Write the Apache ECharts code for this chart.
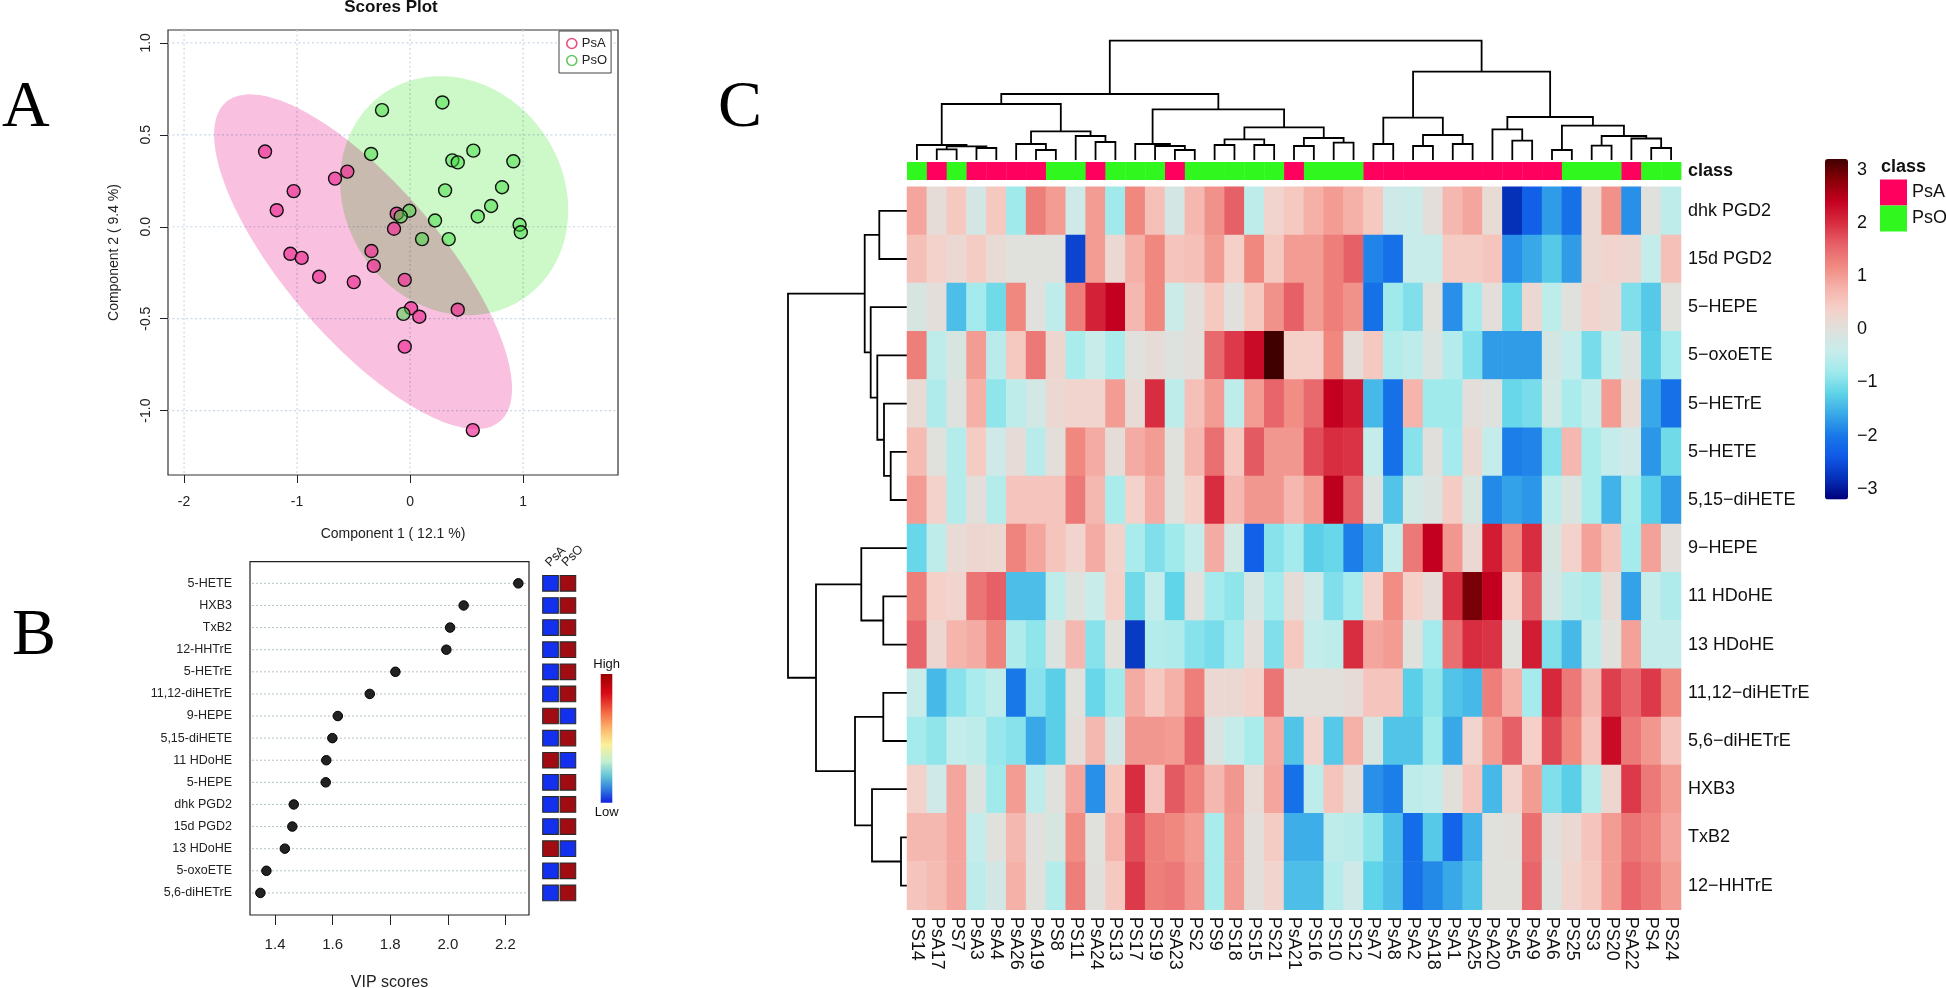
<!DOCTYPE html>
<html><head><meta charset="utf-8">
<script src="https://cdn.jsdelivr.net/npm/echarts@6/dist/echarts.min.js"></script>
<style>html,body{margin:0;padding:0;background:#fff}#c{width:1946px;height:988px}</style></head>
<body><div id="c"></div>
<script>
// ---------- Panel A: scores plot ----------
const psaPoints=[[-1.283,.409],[-1.03,.194],[-1.18,.09],[-.664,.262],[-.555,.30],[-.118,.071],[-.142,-.011],[-1.059,-.147],[-.959,-.169],[-.805,-.272],[-.498,-.301],[-.342,-.132],[-.321,-.213],[-.047,-.289],[.009,-.443],[.082,-.489],[.422,-.451],[-.047,-.652],[.555,-1.106]];
const psoPoints=[[-.248,.634],[.286,.676],[-.345,.396],[.56,.414],[.374,.361],[.422,.35],[.31,.198],[.599,.056],[-.006,.087],[-.082,.056],[.221,.034],[.106,-.067],[.342,-.067],[-.059,-.474],[.914,.356],[.814,.215],[.717,.113],[.969,.011],[.98,-.03]];
// ellipse: centre x, centre y, half width, half height, correlation
const psaEllipse=[-.416,-.19,1.318,.91,-.759];
const psoEllipse=[.39,.169,1.009,.65,-.12];
const scoreTicksX=[-2,-1,0,1];
const scoreTicksY=[-1,-.5,0,.5,1];
// ---------- Panel B: VIP scores ----------
const vipNames=['5-HETE','HXB3','TxB2','12-HHTrE','5-HETrE','11,12-diHETrE','9-HEPE','5,15-diHETE','11 HDoHE','5-HEPE','dhk PGD2','15d PGD2','13 HDoHE','5-oxoETE','5,6-diHETrE'];
const vipScores=[2.245,2.055,2.008,1.995,1.818,1.729,1.618,1.599,1.578,1.576,1.465,1.46,1.434,1.37,1.349];
const vipPsOHigh=[1,1,1,1,1,1,0,1,0,1,1,1,0,1,1];
const vipTicks=[1.4,1.6,1.8,2.0,2.2];
// ---------- Panel C: heat map ----------
const sampleNames=['PS14','PsA17','PS7','PsA3','PsA4','PsA26','PsA19','PS8','PS11','PsA24','PS13','PS17','PS19','PsA23','PS2','PS9','PS18','PS15','PS21','PsA21','PS16','PS10','PS12','PsA7','PsA8','PsA2','PsA18','PsA1','PsA25','PsA20','PsA5','PsA9','PsA6','PS25','PS3','PS20','PsA22','PS4','PS24'];
const rowNames=['dhk PGD2','15d PGD2','5−HEPE','5−oxoETE','5−HETrE','5−HETE','5,15−diHETE','9−HEPE','11 HDoHE','13 HDoHE','11,12−diHETrE','5,6−diHETrE','HXB3','TxB2','12−HHTrE'];
const dhkPGD2=[.9,.1,.5,-.2,.5,-.8,1.3,1.0,-.3,1.0,-.8,1.2,.6,-.2,.7,1.1,1.6,-.5,.3,.5,.8,1.0,.8,.5,-.3,-.35,.05,.7,.9,.15,-2.8,-2.3,-1.7,-2.1,.2,1.1,-1.8,0,-.5];
const d15PGD2=[.6,.35,.2,.45,.15,0,0,0,-2.6,1.0,.2,.8,1.2,.55,.6,1.0,.4,1.2,.5,1.0,1.0,1.3,1.6,-1.9,-2.1,-.4,-.4,.45,.45,.55,-1.8,-1.6,-1.3,-1.7,.2,.3,.25,-.45,.6];
const hepe5=[-.15,.05,-1.4,-.75,-1.1,1.2,0,-.5,1.3,2.1,2.4,.7,1.2,-.35,.05,.5,0,.5,1.1,1.6,1.0,1.3,1.1,-2.1,-.8,-1,0,-1.8,-.75,.05,-1.15,.2,-.5,0,.3,.2,-1,-1.3,0];
const oxoETE5=[1.3,-.5,-.15,1.0,-.55,.5,1.35,.25,-.7,-.4,-.7,0,.1,-.05,.05,1.5,1.9,2.3,3.2,.4,.4,1.2,.1,.5,-.6,-.5,-.1,-.6,-1,-1.7,-1.7,-1.7,-.2,-.45,-1.05,-.45,-.1,-1.25,-.75];
const hetre5=[.15,-.65,-.05,.8,-.9,-.5,-.25,.2,.3,.3,1.0,.15,2.0,-.5,.6,1.0,-.5,1.0,1.55,1.15,1.5,2.4,2.2,-1.45,-2.1,.75,-.8,-.8,.05,-.05,-1.15,-1.05,-.25,-.7,-.45,1.0,.15,-1.6,-2.1];
const hete5=[.65,0,-.6,.45,-.3,.12,-.55,.05,1.2,.85,.1,.85,1.0,0,.7,1.45,.5,1.65,1.05,1.05,1.75,2.0,1.95,-.45,-2.1,-.95,.02,-.75,.2,-.45,-1.95,-1.9,-.95,.7,-.7,-.45,-.3,-1.75,-1.1];
const dihete515=[1.0,.35,-.6,.05,-.6,.55,.55,.55,1.35,.7,-.7,.35,.85,0,.4,2.0,.7,1.05,1.05,.7,1.0,2.45,1.6,-.1,-1.35,-.25,-.1,.45,-.15,-1.85,-1.65,-1.75,-.5,-.1,-.7,-1.5,-.7,-1.25,-1.7];
const hepe9=[-1.15,-.5,.15,.25,.22,1.25,.9,.55,.3,.85,.35,-.7,-1,-.8,-.45,.85,-.25,-2.3,-.95,-.75,-1.25,-1.15,-1.95,-1.5,-.45,1.35,2.4,1.05,.2,2.15,1.2,2.0,-.15,.35,.95,.55,-.75,.95,.05];
const hdohe11=[1.3,.4,.3,1.4,1.6,-1.4,-1.4,-.5,-.05,-.4,.4,-1.1,-.45,-1.2,0,-.75,-.9,-.2,-.75,.1,-.3,-1,-.75,.35,1.15,.4,.12,2.0,2.9,2.4,.4,1.65,-.2,-.55,-.65,.1,-1.65,-.45,-.65];
const hdohe13=[1.55,.25,.75,.85,1.25,-.65,-.9,-.1,.7,-.95,0,-2.7,-.6,-.65,-.95,-1.05,-.75,.05,-1,.5,-.45,-.5,2.0,.9,1.0,0,-.75,1.45,2.0,1.95,0,2.15,-1,-1.45,-.5,0,.95,-.45,-.45];
const dihetre1112=[-.4,-1.45,-.95,-.7,-.5,-2,-.95,-1.25,0,-1.15,-.8,.85,.5,.8,1.3,.2,.2,.35,1.4,.03,.03,.03,.12,.55,.55,-1.25,-.9,-1.35,-1.45,1.3,.8,-.75,2.05,1.35,.7,1.85,1.55,1.9,1.2];
const dihetre56=[-.75,-.9,-.45,-.5,-.85,-.95,-1.6,-1.25,.05,.7,-.2,1.05,1.05,1.0,1.6,-.1,-.45,-.7,.85,-1.35,.3,-1.3,.8,-.15,-1.35,-1.35,-.8,-1.6,.3,1.0,1.6,.4,1.8,1.2,.55,2.3,1.35,1.05,.55];
const hxb3=[.35,-.3,.9,-.1,-.8,1.0,-.5,0,.9,-1.8,.5,2.0,.55,1.65,1.25,.7,1.05,.15,.9,-2.1,-.5,.55,.1,-1.8,-1.95,-.5,-.45,.03,.55,-1.45,.3,1.0,-1,-1.25,-.6,.25,1.9,1.35,1.0];
const txb2=[.7,.7,.9,-.45,0,.7,0,-.15,1.15,0,.75,1.75,1.3,1.2,1.0,-.7,1.0,.05,.45,-1.55,-1.55,-.5,-.55,-.9,-1.4,-2.15,-1.3,-2.25,-1.5,0,.03,1.45,.02,.2,.55,1.0,1.4,1.25,.9];
const hhtre12=[.55,.65,.9,-.5,-.2,.8,0,-.6,1.3,.02,.5,1.9,1.3,1.35,1.05,-.7,1.0,.05,.3,-1.4,-1.4,-.6,-.3,-1.2,-1.4,-2.1,-1.85,-1.6,-1.35,0,0,1.55,-.05,.3,.5,1.0,1.55,1.35,1.0];
const rowValues=[dhkPGD2,d15PGD2,hepe5,oxoETE5,hetre5,hete5,dihete515,hepe9,hdohe11,hdohe13,dihetre1112,dihetre56,hxb3,txb2,hhtre12];
const heatColors=['#00007a','#0530b8','#1058e8','#1878e8','#38a8e8','#60d4e8','#a0eaec','#c8ecea','#e0e0dc','#f5d0c8','#f5b0a8','#f08880','#e66068','#d82c40','#c40020','#8a0008','#400000'];
const heatTicks=[-3,-2,-1,0,1,2,3];
// dendrograms: [height, left, right]; a bare number is a leaf position
const sampleTree=[119.3,
 [66,[56,[15,0,[13.7,[10.7,1,2],[12,3,4]]],[28.7,[16,5,[10,6,7]],[24,8,[18,9,10]]]],
     [50.7,[16,11,[14,12,[10,13,14]]],[32.7,[20.7,[15,15,16],[15,17,18]],[22,[14,19,20],[17.3,21,22]]]]],
 [88.3,[42.3,[16,23,24],[25,[14,25,26],[16,27,28]]],
       [43,[30.7,29,[19.3,30,31]],[34.4,[10,32,33],[24,[14.3,34,35],[21.5,36,[12,37,38]]]]]]];
const rowTree=[119,
 [42.3,[27.7,0,1],[36.3,2,[29.7,3,[23,4,[16.3,5,6]]]]],
 [91,[45.7,7,[23.7,8,9]],[52,[23.7,10,11],[35,12,[6,13,14]]]]];

function treeLinks(tree){const out=[];(function walk(n){if(typeof n==='number')return[n+.5,0];
 const a=walk(n[1]),b=walk(n[2]);out.push([a[0],a[1],n[0],b[0],b[1]]);return[(a[0]+b[0])/2,n[0]];})(tree);return out;}

const FONT='"Liberation Sans",Arial,sans-serif';
const hidden={show:false};
const noLine={show:false,onZero:false};
const grids=[
 {left:168,top:30,width:450,height:445,show:true,borderColor:'#333',borderWidth:1.2,backgroundColor:'transparent'},
 {left:250,top:561.7,width:279,height:353.3,show:true,borderColor:'#222',borderWidth:1.2,backgroundColor:'transparent'},
 {left:541.8,top:561.7,width:34.8,height:353.3},
 {left:907,top:40,width:774,height:120},
 {left:788,top:186.7,width:119,height:723},
 {left:907,top:162,width:774,height:18},
 {left:907,top:186.7,width:774,height:723},
 {left:1825,top:159,width:23,height:340.6}
].map(g=>Object.assign(g,{outerBoundsMode:'none'}));
const vipY=(extra)=>Object.assign({type:'value',min:-.98,max:15,inverse:true,splitLine:hidden},extra);
const xAxes=[
 {gridIndex:0,type:'value',min:-2.142,max:1.84,splitLine:hidden,axisLine:noLine,
  axisTick:{customValues:scoreTicksX,length:8,lineStyle:{color:'#222'}},
  axisLabel:{customValues:scoreTicksX,fontSize:14,color:'#222',fontFamily:FONT,margin:20,formatter:v=>String(v)},
  name:'Component 1 ( 12.1 %)',nameLocation:'middle',nameGap:52,nameTextStyle:{fontSize:14,color:'#222',fontFamily:FONT}},
 {gridIndex:1,type:'value',min:1.313,max:2.282,splitLine:hidden,axisLine:noLine,
  axisTick:{customValues:vipTicks,length:10,lineStyle:{color:'#222'}},
  axisLabel:{customValues:vipTicks,fontSize:15,color:'#222',fontFamily:FONT,margin:22,formatter:v=>v.toFixed(1)},
  name:'VIP scores',nameLocation:'middle',nameGap:60,nameTextStyle:{fontSize:16,color:'#222',fontFamily:FONT}},
 {gridIndex:2,type:'category',data:['PsA','PsO'],show:false},
 {gridIndex:3,type:'value',min:0,max:39,show:false},
 {gridIndex:4,type:'value',min:0,max:119,inverse:true,show:false},
 {gridIndex:5,type:'category',data:sampleNames,show:false},
 {gridIndex:6,type:'category',data:sampleNames,position:'bottom',axisLine:hidden,axisTick:hidden,splitLine:hidden,
  axisLabel:{rotate:-90,interval:0,fontSize:18,color:'#111',fontFamily:FONT,margin:7}},
 {gridIndex:7,type:'value',min:0,max:1,show:false}
];
const yAxes=[
 {gridIndex:0,type:'value',min:-1.35,max:1.07,splitLine:hidden,axisLine:noLine,
  axisTick:{customValues:scoreTicksY,length:8,lineStyle:{color:'#222'}},
  axisLabel:{customValues:scoreTicksY,rotate:90,fontSize:14,color:'#222',fontFamily:FONT,margin:15,formatter:v=>v.toFixed(1)},
  name:'Component 2 ( 9.4 %)',nameLocation:'middle',nameGap:47,nameTextStyle:{fontSize:14,color:'#222',fontFamily:FONT}},
 vipY({gridIndex:1,axisLine:noLine,axisTick:hidden,
  axisLabel:{customValues:vipNames.map((_,i)=>i),fontSize:12.5,color:'#222',fontFamily:FONT,margin:18,formatter:v=>vipNames[v]}}),
 vipY({gridIndex:2,show:false}),
 {gridIndex:3,type:'value',min:0,max:120,show:false},
 {gridIndex:4,type:'value',min:0,max:15,inverse:true,show:false},
 {gridIndex:5,type:'category',data:['class'],position:'right',axisLine:hidden,axisTick:hidden,
  axisLabel:{fontSize:18,fontWeight:'bold',color:'#111',fontFamily:FONT,margin:7}},
 {gridIndex:6,type:'category',data:rowNames,inverse:true,position:'right',axisLine:hidden,axisTick:hidden,splitLine:hidden,
  axisLabel:{interval:0,fontSize:18,color:'#111',fontFamily:FONT,margin:7}},
 {gridIndex:7,type:'value',min:-3.2,max:3.2,position:'right',splitLine:hidden,axisLine:noLine,axisTick:hidden,
  axisLabel:{customValues:heatTicks,fontSize:18,color:'#111',fontFamily:FONT,margin:9,formatter:v=>String(v).replace('-','−')}}
];
const gridDots={stroke:'#c9d7ea',lineWidth:1.2,lineDash:[2,2.5]};
function on(i){return{xAxisIndex:i,yAxisIndex:i,silent:true};}
const series=[];
series.push(Object.assign({type:'custom',data:scoreTicksX.map(v=>[v,0]),z:1,renderItem:(p,api)=>{
 const x=api.coord([api.value(0),0])[0],c=p.coordSys;
 return{type:'line',shape:{x1:x,y1:c.y,x2:x,y2:c.y+c.height},style:gridDots};}},on(0)));
series.push(Object.assign({type:'custom',data:scoreTicksY.map(v=>[0,v]),z:1,renderItem:(p,api)=>{
 const y=api.coord([0,api.value(1)])[1],c=p.coordSys;
 return{type:'line',shape:{x1:c.x,y1:y,x2:c.x+c.width,y2:y},style:gridDots};}},on(0)));
function ellipseSeries(e,fill){return Object.assign({type:'custom',blendMode:'multiply',data:[[e[0],e[1]]],z:2,renderItem:(p,api)=>{
 const phi=Math.acos(e[4]),pts=[];
 for(let k=0;k<180;k++){const t=k/180*2*Math.PI;pts.push(api.coord([e[0]+e[2]*Math.cos(t),e[1]+e[3]*Math.cos(t-phi)]));}
 return{type:'polygon',shape:{points:pts},style:{fill:fill}};}},on(0));}
series.push(ellipseSeries(psaEllipse,'#f9c0e0'));
series.push(ellipseSeries(psoEllipse,'#cdf8c8'));
const dotBorder={borderColor:'#111',borderWidth:1.4,opacity:1};
series.push({name:'PsA',type:'scatter',xAxisIndex:0,yAxisIndex:0,symbolSize:13,z:4,data:psaPoints,itemStyle:Object.assign({color:'rgba(240,50,150,.7)'},dotBorder)});
series.push({name:'PsO',type:'scatter',xAxisIndex:0,yAxisIndex:0,symbolSize:13,z:4,data:psoPoints,itemStyle:Object.assign({color:'rgba(60,220,60,.5)'},dotBorder)});
// VIP
series.push(Object.assign({type:'custom',data:vipNames.map((_,i)=>[0,i]),z:1,renderItem:(p,api)=>{
 const y=api.coord([1.5,api.value(1)])[1],c=p.coordSys;
 return{type:'line',shape:{x1:c.x+2,y1:y,x2:c.x+c.width-2,y2:y},style:{stroke:'#b4c6c2',lineWidth:1,lineDash:[2,2]}};}},on(1)));
series.push({type:'scatter',xAxisIndex:1,yAxisIndex:1,symbolSize:9.5,z:3,silent:true,data:vipScores.map((v,i)=>[v,i]),itemStyle:{color:'#222',borderColor:'#000',borderWidth:1,opacity:1}});
series.push(Object.assign({type:'custom',z:2,data:vipPsOHigh.flatMap((h,i)=>[[0,i,h?0:1],[1,i,h?1:0]]),renderItem:(p,api)=>{
 const c=api.coord([api.value(0),api.value(1)]);
 return{type:'rect',shape:{x:c[0]-7.8,y:c[1]-7.8,width:15.6,height:15.6},
  style:{fill:api.value(2)?'#a00c12':'#1230ee',stroke:'#2b2b2b',lineWidth:1.1}};}},on(2)));
// dendrograms
series.push(Object.assign({type:'custom',z:2,data:treeLinks(sampleTree),renderItem:(p,api)=>{
 const v=[0,1,2,3,4].map(i=>api.value(i));
 const pts=[[v[0],v[1]],[v[0],v[2]],[v[3],v[2]],[v[3],v[4]]].map(q=>api.coord(q));
 return{type:'polyline',shape:{points:pts},style:{stroke:'#000',lineWidth:1.8,fill:null}};}},on(3)));
series.push(Object.assign({type:'custom',z:2,data:treeLinks(rowTree),renderItem:(p,api)=>{
 const v=[0,1,2,3,4].map(i=>api.value(i));
 const pts=[[v[1],v[0]],[v[2],v[0]],[v[2],v[3]],[v[4],v[3]]].map(q=>api.coord(q));
 return{type:'polyline',shape:{points:pts},style:{stroke:'#000',lineWidth:1.8,fill:null}};}},on(4)));
// class bar
series.push(Object.assign({type:'custom',z:2,data:sampleNames.map((n,i)=>[i,0,n.startsWith('PsA')?1:0]),renderItem:(p,api)=>{
 const c=api.coord([api.value(0),0]),s=api.size([1,1]);
 return{type:'rect',shape:{x:c[0]-s[0]/2,y:c[1]-s[1]/2,width:s[0]+.4,height:s[1]},style:{fill:api.value(2)?'#ff005f':'#30f81e'}};}},on(5)));
// heat map
const heatIndex=series.length;
series.push({type:'heatmap',xAxisIndex:6,yAxisIndex:6,silent:true,z:2,
 data:rowValues.flatMap((r,ri)=>r.map((v,ci)=>[ci,ri,v])),itemStyle:{borderWidth:0}});

const txt=(t,x,y,font,extra)=>({type:'text',x,y,silent:true,z:20,style:Object.assign({text:t,font,fill:'#111',textAlign:'left',textVerticalAlign:'middle'},extra||{})});
const SERIF='"Liberation Serif",serif';
const graphics=[
 txt('A',2,109,`66px ${SERIF}`,{fill:'#000'}),
 txt('B',12,637,`66px ${SERIF}`,{fill:'#000'}),
 txt('C',718,109,`66px ${SERIF}`,{fill:'#000'}),
 txt('Scores Plot',391,7,`bold 17px ${FONT}`,{textAlign:'center'}),
 txt('High',606.7,664,`13px ${FONT}`,{textAlign:'center'}),
 txt('Low',606.7,812,`13px ${FONT}`,{textAlign:'center'}),
 {type:'rect',silent:true,z:20,shape:{x:600.7,y:674,width:11.6,height:128.7},style:{fill:new echarts.graphic.LinearGradient(0,0,0,1,[
  {offset:0,color:'#9c0000'},{offset:.15,color:'#d80a18'},{offset:.3,color:'#f46a44'},{offset:.42,color:'#fbb46a'},{offset:.55,color:'#faf09a'},{offset:.68,color:'#c2efd0'},{offset:.8,color:'#5fc0d8'},{offset:.9,color:'#2f78de'},{offset:1,color:'#1020e0'}])}},
 txt('PsA',555.7,556.7,`12.5px ${FONT}`,{textAlign:'center',fill:'#222'}),
 txt('PsO',572.7,556,`12.5px ${FONT}`,{textAlign:'center',fill:'#222'}),
 txt('class',1881,167,`bold 18px ${FONT}`),
 {type:'rect',silent:true,z:20,shape:{x:1880,y:179.5,width:27,height:26},style:{fill:'#ff005f'}},
 {type:'rect',silent:true,z:20,shape:{x:1880,y:205.5,width:27,height:26},style:{fill:'#30f81e'}},
 txt('PsA',1912,192,`18px ${FONT}`),
 txt('PsO',1912,218,`18px ${FONT}`)
];
graphics[7].rotation=Math.PI/4;graphics[8].rotation=Math.PI/4;

const chart=echarts.init(document.getElementById('c'),null,{renderer:'canvas'});
chart.setOption({
 animation:false,backgroundColor:'#fff',textStyle:{fontFamily:FONT},tooltip:{show:false},
 grid:grids,xAxis:xAxes,yAxis:yAxes,series,graphic:graphics,
 legend:{left:559,top:31,orient:'vertical',padding:[6,4,6,7],itemGap:4,itemWidth:10,itemHeight:10,
  backgroundColor:'#fff',borderColor:'#444',borderWidth:1,selectedMode:false,textStyle:{fontSize:13,color:'#222',fontFamily:FONT},
  data:[{name:'PsA',icon:'circle',itemStyle:{color:'transparent',borderColor:'#e8507c',borderWidth:1.6}},
        {name:'PsO',icon:'circle',itemStyle:{color:'transparent',borderColor:'#62c862',borderWidth:1.6}}]},
 visualMap:{type:'continuous',seriesIndex:heatIndex,min:-3.2,max:3.2,calculable:false,hoverLink:false,text:null,showLabel:false,
  left:1825,top:159,itemWidth:23,itemHeight:340.6,padding:0,orient:'vertical',inRange:{color:heatColors},textStyle:{color:'transparent'}}
});
</script></body></html>
